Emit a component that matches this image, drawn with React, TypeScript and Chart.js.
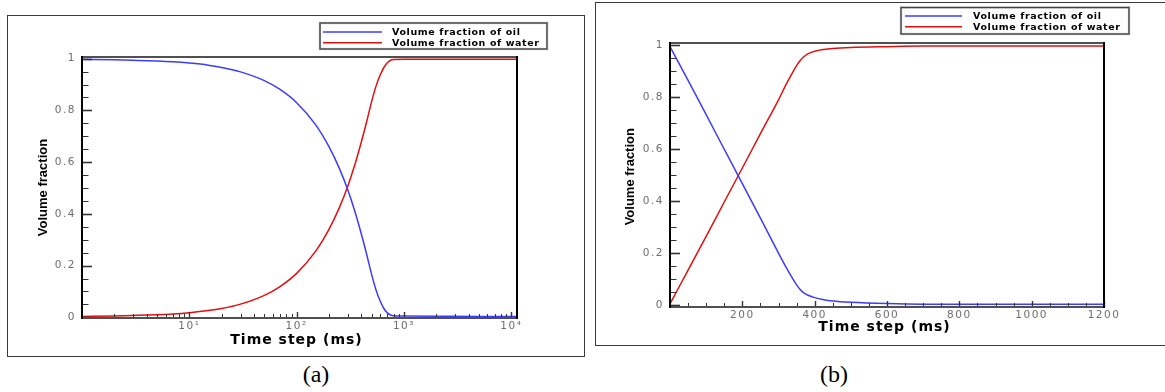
import React, { useEffect, useRef } from 'react';
import { Chart, registerables } from 'chart.js';

Chart.register(...registerables);

// ---------- data ----------
const seriesLabels = ['Volume fraction of oil', 'Volume fraction of water'];
const seriesColors = ['#3c3cff', '#e01010'];
const xTitle = 'Time step (ms)';
const yTitle = 'Volume fraction';

// panel (a): logarithmic time axis
const timeA = [1, 2, 3, 5, 7, 10, 15, 20, 30, 50, 70, 100, 150, 200, 250, 300, 350, 400, 450, 500, 550, 600, 650, 700, 750, 800, 1000, 2000, 5000, 11300];
const oilA = [0.998, 0.996, 0.994, 0.991, 0.988, 0.983, 0.975, 0.966, 0.949, 0.915, 0.881, 0.83, 0.745, 0.66, 0.576, 0.492, 0.407, 0.323, 0.242, 0.165, 0.105, 0.063, 0.034, 0.017, 0.009, 0.006, 0.005, 0.004, 0.003, 0.003];
const waterA = [0.003, 0.005, 0.007, 0.01, 0.013, 0.018, 0.026, 0.034, 0.051, 0.085, 0.119, 0.17, 0.255, 0.34, 0.424, 0.508, 0.593, 0.677, 0.758, 0.835, 0.895, 0.937, 0.966, 0.984, 0.994, 0.997, 0.998, 0.998, 0.998, 0.998];

// panel (b): linear time axis
const timeB = [0, 50, 100, 150, 200, 250, 300, 320, 340, 350, 360, 370, 380, 400, 425, 450, 500, 600, 700, 800, 1000, 1200];
const oilB = [0.995, 0.865, 0.733, 0.6, 0.468, 0.335, 0.2, 0.148, 0.1, 0.078, 0.06, 0.047, 0.039, 0.029, 0.021, 0.016, 0.011, 0.006, 0.004, 0.004, 0.004, 0.004];
const waterB = [0.005, 0.135, 0.265, 0.397, 0.528, 0.66, 0.79, 0.847, 0.898, 0.922, 0.942, 0.956, 0.966, 0.977, 0.984, 0.988, 0.992, 0.995, 0.997, 0.997, 0.997, 0.997];

const yTickValues = [0, 0.2, 0.4, 0.6, 0.8, 1];
const yTickLabels = ['0', '0.2', '0.4', '0.6', '0.8', '1'];
const yMinorValues = [0.05, 0.1, 0.15, 0.25, 0.3, 0.35, 0.45, 0.5, 0.55, 0.65, 0.7, 0.75, 0.85, 0.9, 0.95];

const xTickValuesA = [10, 100, 1000, 10000];
const xTickLabelsA = ['10\u00b9', '10\u00b2', '10\u00b3', '10\u2074'];
const xMinorA = [2, 3, 4, 5, 6, 7, 8, 9, 20, 30, 40, 50, 60, 70, 80, 90, 200, 300, 400, 500, 600, 700, 800, 900, 2000, 3000, 4000, 5000, 6000, 7000, 8000, 9000];

const xTickValuesB = [200, 400, 600, 800, 1000, 1200];
const xTickLabelsB = ['200', '400', '600', '800', '1000', '1200'];
const xMinorB = [50, 100, 150, 250, 300, 350, 450, 500, 550, 650, 700, 750, 850, 900, 950, 1050, 1100, 1150];

// ---------- decoration plugin (frame, inward ticks, legend, titles) ----------
const decoPlugin = {
  id: 'deco',
  beforeDraw(chart: any) {
    chart.ctx.letterSpacing = '1.5px';
  },
  afterDraw(chart: any, _args: any, o: any) {
    const ctx = chart.ctx;
    const { left, right, top, bottom } = chart.chartArea;
    const xs = chart.scales.x;
    const ys = chart.scales.y;
    ctx.save();
    ctx.letterSpacing = '0px';
    ctx.strokeStyle = '#333';
    const seg = (x1: number, y1: number, x2: number, y2: number, w: number) => {
      ctx.lineWidth = w;
      ctx.beginPath();
      ctx.moveTo(x1, y1);
      ctx.lineTo(x2, y2);
      ctx.stroke();
    };
    for (const v of o.yMajor) { const p = Math.round(ys.getPixelForValue(v)) + 0.5; seg(left, p, left + 10, p, 1.6); }
    for (const v of o.yMinor) { const p = Math.round(ys.getPixelForValue(v)) + 0.5; seg(left, p, left + 6.5, p, 1); }
    for (const v of o.xMajor) { const p = Math.round(xs.getPixelForValue(v)) + 0.5; seg(p, bottom, p, bottom - 6, 1.4); }
    for (const v of o.xMinor) { const p = Math.round(xs.getPixelForValue(v)) + 0.5; seg(p, bottom, p, bottom - 4, 1); }
    // frame
    ctx.lineCap = 'square';
    ctx.strokeStyle = '#505050';
    seg(left, top, right, top, 2);
    seg(left, bottom, right, bottom, 2);
    ctx.strokeStyle = '#000';
    seg(left, top, left, bottom, 2);
    seg(right, top, right, bottom, 2);
    ctx.lineCap = 'butt';
    // legend
    const L = o.legend;
    ctx.fillStyle = '#fff';
    ctx.fillRect(L.x, L.y, L.w, L.h);
    ctx.strokeStyle = '#9a9a9a';
    ctx.lineWidth = 2.2;
    ctx.strokeRect(L.x, L.y, L.w, L.h);
    ctx.strokeStyle = '#444';
    ctx.lineWidth = 1;
    ctx.strokeRect(L.x, L.y, L.w, L.h);
    ctx.font = 'bold 9.5px "DejaVu Sans"';
    ctx.letterSpacing = '0.6px';
    ctx.textBaseline = 'middle';
    ctx.textAlign = 'left';
    chart.data.datasets.forEach((ds: any, i: number) => {
      const ry = L.rows[i];
      ctx.strokeStyle = ds.borderColor;
      ctx.lineWidth = 1.6;
      ctx.beginPath();
      ctx.moveTo(L.lx1, ry);
      ctx.lineTo(L.lx2, ry);
      ctx.stroke();
      ctx.fillStyle = '#000';
      ctx.fillText(ds.label, L.tx, ry + 0.5);
    });
    // axis titles
    ctx.fillStyle = '#000';
    ctx.font = 'bold 14px "DejaVu Sans"';
    ctx.letterSpacing = '1px';
    ctx.textAlign = 'center';
    ctx.fillText(xTitle, o.xt[0] + 0.5, o.xt[1]);
    ctx.letterSpacing = '0px';
    ctx.font = 'bold 13px "Liberation Sans"';
    ctx.translate(o.yt[0], o.yt[1]);
    ctx.rotate(-Math.PI / 2);
    ctx.fillText(yTitle, 0, 0);
    ctx.restore();
    ctx.letterSpacing = '0px';
  },
};

function Panel({ cfg, width, height }: { cfg: any; width: number; height: number }) {
  const ref = useRef<HTMLCanvasElement>(null);
  useEffect(() => {
    const canvas = ref.current;
    if (!canvas) return;
    const tickFont = { family: '"DejaVu Sans"', size: 10.5 };
    const chart = new Chart(canvas, {
      type: 'line',
      data: {
        datasets: [
          {
            label: seriesLabels[0],
            data: cfg.time.map((t: number, i: number) => ({ x: t, y: cfg.oil[i] })),
            borderColor: seriesColors[0],
            borderWidth: 1.5,
            pointRadius: 0,
            cubicInterpolationMode: 'monotone',
            fill: false,
          },
          {
            label: seriesLabels[1],
            data: cfg.time.map((t: number, i: number) => ({ x: t, y: cfg.water[i] })),
            borderColor: seriesColors[1],
            borderWidth: 1.5,
            pointRadius: 0,
            cubicInterpolationMode: 'monotone',
            fill: false,
          },
        ],
      },
      options: {
        animation: false,
        responsive: false,
        maintainAspectRatio: false,
        devicePixelRatio: 1,
        layout: { padding: cfg.padding },
        plugins: {
          legend: { display: false },
          title: { display: false },
          tooltip: { enabled: false },
          deco: {
            yMajor: yTickValues,
            yMinor: yMinorValues,
            xMajor: cfg.xTicks,
            xMinor: cfg.xMinor,
            legend: cfg.legend,
            xt: cfg.xt,
            yt: cfg.yt,
          },
        } as any,
        scales: {
          x: {
            type: cfg.log ? 'logarithmic' : 'linear',
            min: cfg.xMin,
            max: cfg.xMax,
            grid: { display: false, drawTicks: false },
            border: { display: false },
            afterBuildTicks: (s: any) => {
              s.ticks = cfg.xTicks.map((v: number) => ({ value: v }));
            },
            afterFit: (s: any) => {
              s.height = cfg.xAxisHeight;
            },
            ticks: {
              autoSkip: false,
              maxRotation: 0,
              padding: 2,
              color: '#6e6e6e',
              font: tickFont,
              callback: (_v: any, i: number) => cfg.xLabels[i],
            },
          } as any,
          y: {
            type: 'linear',
            min: cfg.yMin,
            max: cfg.yMax,
            grid: { display: false, drawTicks: false },
            border: { display: false },
            afterBuildTicks: (s: any) => {
              s.ticks = yTickValues.map((v) => ({ value: v }));
            },
            afterFit: (s: any) => {
              s.width = 40;
            },
            ticks: {
              autoSkip: false,
              padding: 6,
              color: '#6e6e6e',
              font: tickFont,
              callback: (_v: any, i: number) => yTickLabels[i],
            },
          } as any,
        },
      },
      plugins: [decoPlugin as any],
    });
    return () => chart.destroy();
  }, [cfg]);
  return <canvas ref={ref} width={width} height={height} style={{ position: 'absolute', left: 0, top: 0, width, height }} />;
}

const cfgA: any = {
  log: true,
  time: timeA,
  oil: oilA,
  water: waterA,
  xMin: 1,
  xMax: 11300,
  yMin: -0.0027,
  yMax: 1.0066,
  xTicks: xTickValuesA,
  xLabels: xTickLabelsA,
  xMinor: xMinorA,
  padding: { left: 34, right: 67, top: 41, bottom: 0 },
  xAxisHeight: 38,
  legend: { x: 312, y: 7, w: 227, h: 26, lx1: 315, lx2: 374, tx: 384, rows: [16, 26.7] },
  xt: [288, 324],
  yt: [35, 171.5],
};

const cfgB: any = {
  log: false,
  time: timeB,
  oil: oilB,
  water: waterB,
  xMin: 0,
  xMax: 1200,
  yMin: -0.007,
  yMax: 1.009,
  xTicks: xTickValuesB,
  xLabels: xTickLabelsB,
  xMinor: xMinorB,
  padding: { left: 34, right: 90, top: 40, bottom: 0 },
  xAxisHeight: 38,
  legend: { x: 305, y: 4.5, w: 228, h: 26.5, lx1: 309, lx2: 366, tx: 377, rows: [13, 23.7] },
  xt: [288, 324],
  yt: [34, 173.7],
};

export default function App() {
  const caption: React.CSSProperties = {
    position: 'absolute',
    top: 362,
    width: 60,
    marginLeft: -30,
    textAlign: 'center',
    fontFamily: '"Liberation Serif", serif',
    fontSize: 24,
    lineHeight: '24px',
    color: '#000',
  };
  return (
    <div style={{ position: 'fixed', left: 0, top: 0, width: 1165, height: 392, overflow: 'hidden', background: '#fff' }}>
      <div style={{ position: 'absolute', left: 7, top: 15, width: 578, height: 342, border: '1px solid #3a3a3a', boxSizing: 'border-box' }}>
        <Panel cfg={cfgA} width={576} height={340} />
      </div>
      <div style={{ position: 'absolute', left: 595, top: 2, width: 600, height: 344, border: '1px solid #3a3a3a', boxSizing: 'border-box' }}>
        <Panel cfg={cfgB} width={598} height={342} />
      </div>
      <div style={{ ...caption, left: 316 }}>(a)</div>
      <div style={{ ...caption, left: 834 }}>(b)</div>
    </div>
  );
}
